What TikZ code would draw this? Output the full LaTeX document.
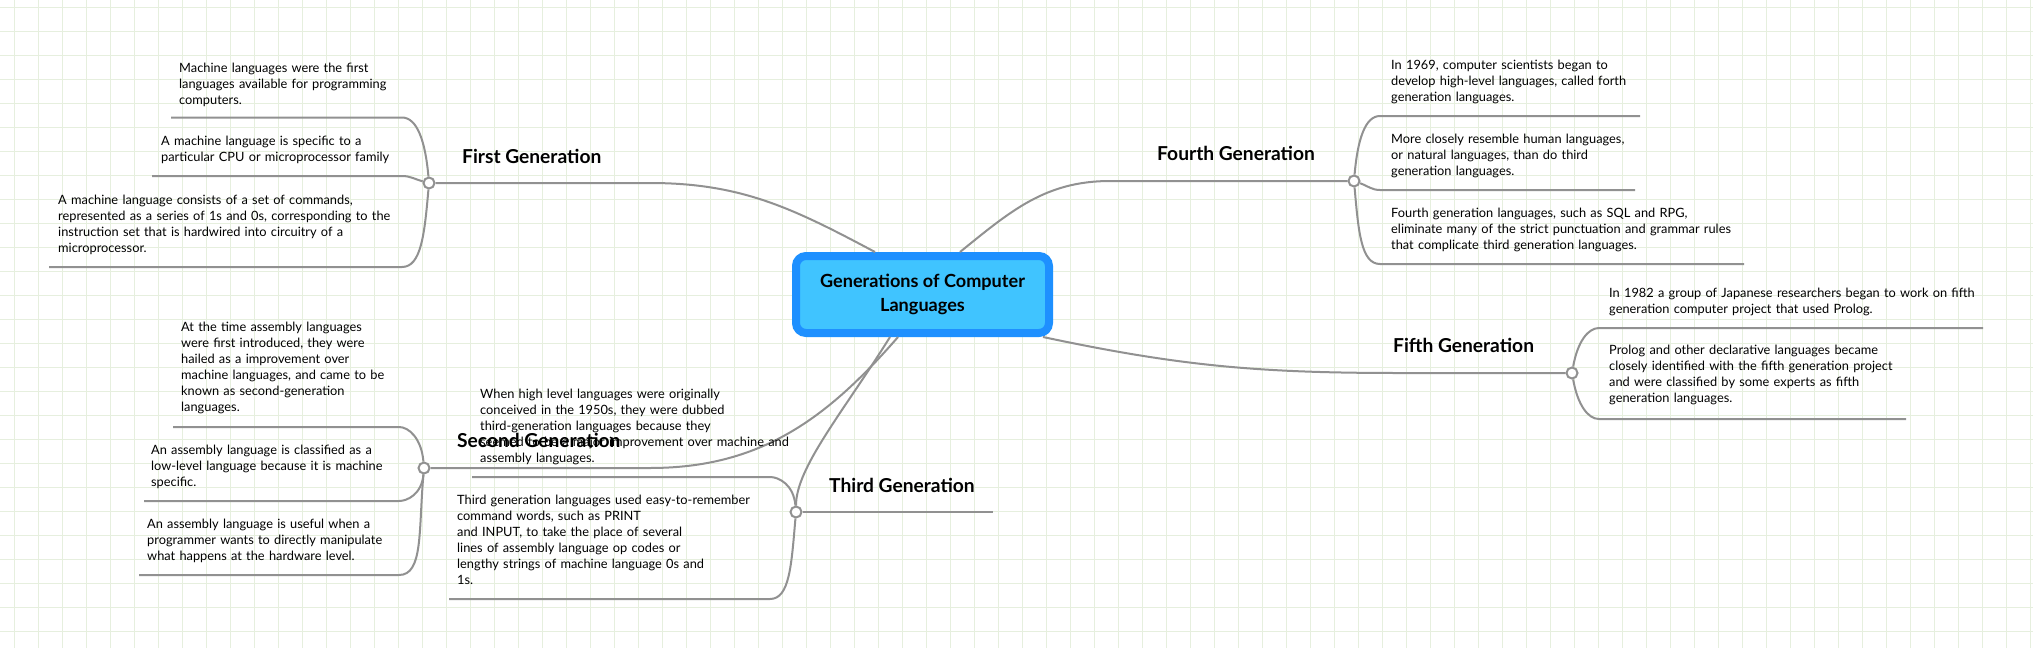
\documentclass[tikz,border=0pt]{standalone}
\usepackage{fontspec}
\setmainfont{Lato}
\usetikzlibrary{calc}

\definecolor{gridgreen}{RGB}{230,239,222}
\definecolor{linegray}{RGB}{145,145,145}
\definecolor{hubblue}{RGB}{30,144,255}
\definecolor{hubfill}{RGB}{64,196,255}

\begin{document}
\begin{tikzpicture}[x = 1pt, y = 1pt,
    branch/.style = {draw = linegray, line width = 2pt},
    dot/.style = {circle, draw = linegray, fill = white, line width = 2pt, minimum size = 11pt, inner sep = 0pt},
    hub/.style = {rounded corners = 10pt, draw = hubblue, fill = hubfill, line width = 8pt, minimum width = 253pt, minimum height = 77pt, inner sep = 0pt, align = center, font = \fontsize{18.1}{24}\selectfont\bfseries},
    topic/.style = {anchor = base west, inner sep = 0pt, font = \fontsize{19.2}{22}\selectfont\bfseries},
    leaf/.style = {anchor = base west, inner sep = 0pt, text width = 420pt, align = left, font = \fontsize{12.8}{16}\selectfont}]
    \useasboundingbox (0,0) rectangle (2033,-648);
    \fill[white] (0,0) rectangle (2033,-648);
    \foreach \x in {14,38,...,2030}
        \draw[gridgreen, line width = 1pt] (\x,0) -- (\x,-648);
    \foreach \y in {7,31,...,631}
        \draw[gridgreen, line width = 1pt] (0,-\y) -- (2033,-\y);

    \node[hub] (hub) at (922.5,-294.5) {Generations of Computer\\Languages};

    \node[dot] (c1) at (429,-183) {};
    \node[dot] (c2) at (424,-468) {};
    \node[dot] (c3) at (796,-512) {};
    \node[dot] (c4) at (1354,-181) {};
    \node[dot] (c5) at (1572,-373) {};

    \coordinate (h1) at ($(hub.north)+(-47.5,0)$);
    \coordinate (h4) at ($(hub.north)+(37.5,0)$);
    \coordinate (h5) at ($(hub.south east)+(-10,0)$);
    \coordinate (h2) at ($(hub.south)+(-24.5,0)$);
    \coordinate (h3) at ($(hub.south)+(-32.5,0)$);
    \coordinate (e1) at (650,-183);
    \coordinate (e2) at (650,-468);
    \coordinate (e3) at (993,-512);
    \coordinate (e4) at (1110,-181);
    \coordinate (e5) at (1400,-373);

    \coordinate (p11) at (402,-117.5);  \coordinate (q11) at (171,-117.5);
    \coordinate (p12) at (402,-176);    \coordinate (q12) at (152,-176);
    \coordinate (p13) at (402,-267);    \coordinate (q13) at (49,-267);
    \coordinate (p21) at (399,-427);    \coordinate (q21) at (173,-427);
    \coordinate (p22) at (399,-501);    \coordinate (q22) at (144,-501);
    \coordinate (p23) at (399,-575);    \coordinate (q23) at (139,-575);
    \coordinate (p31) at (770,-477);    \coordinate (q31) at (472,-477);
    \coordinate (p32) at (770,-599);    \coordinate (q32) at (449,-599);
    \coordinate (p41) at (1380,-116);   \coordinate (q41) at (1640,-116);
    \coordinate (p42) at (1380,-190);   \coordinate (q42) at (1635,-190);
    \coordinate (p43) at (1380,-264);   \coordinate (q43) at (1744,-264);
    \coordinate (p51) at (1599,-328);   \coordinate (q51) at (1983,-328);
    \coordinate (p52) at (1599,-419);   \coordinate (q52) at (1906,-419);

    \draw[branch] (h1) to[out = 152, in = 0] (e1) -- (c1);
    \draw[branch] (h4) to[out = 39, in = 180] (e4) -- (c4);
    \draw[branch] (h5) to[out = -12, in = 180] (e5) -- (c5);
    \draw[branch] (h2) to[out = 229, in = 0] (e2) -- (c2);
    \draw[branch] (h3) to[out = 238, in = 90, out looseness = 1.2, in looseness = 0.5] (c3);
    \draw[branch] (c3) -- (e3);

    \draw[branch] (c1) to[out = 95, in = 0, out looseness = 1.4, in looseness = 0.6] (p11) -- (q11);
    \draw[branch] (c1) to[out = 165, in = 0] (p12) -- (q12);
    \draw[branch] (c1) to[out = 265, in = 0, out looseness = 1.4, in looseness = 0.6] (p13) -- (q13);
    \draw[branch] (c2) to[out = 95, in = 0, out looseness = 1.4, in looseness = 0.6] (p21) -- (q21);
    \draw[branch] (c2) to[out = 265, in = 0, out looseness = 1.4, in looseness = 0.6] (p22) -- (q22);
    \draw[branch] (c2) to[out = 265, in = 0, out looseness = 1.4, in looseness = 0.6] (p23) -- (q23);
    \draw[branch] (c3) to[out = 95, in = 0, out looseness = 1.4, in looseness = 0.6] (p31) -- (q31);
    \draw[branch] (c3) to[out = 265, in = 0, out looseness = 1.4, in looseness = 0.6] (p32) -- (q32);
    \draw[branch] (c4) to[out = 85, in = 180, out looseness = 1.4, in looseness = 0.6] (p41) -- (q41);
    \draw[branch] (c4) to[out = -20, in = 180] (p42) -- (q42);
    \draw[branch] (c4) to[out = 275, in = 180, out looseness = 1.4, in looseness = 0.6] (p43) -- (q43);
    \draw[branch] (c5) to[out = 80, in = 180, out looseness = 1.4, in looseness = 0.6] (p51) -- (q51);
    \draw[branch] (c5) to[out = 280, in = 180, out looseness = 1.4, in looseness = 0.6] (p52) -- (q52);

    \node[leaf] (l11) at (179,-72) {Machine languages were the first\\languages available for programming\\computers.};
    \node[leaf] (l12) at (161,-145) {A machine language is specific to a\\particular CPU or microprocessor family};
    \node[leaf] (l13) at (58,-204) {A machine language consists of a set of commands,\\represented as a series of 1s and 0s, corresponding to the\\instruction set that is hardwired into circuitry of a\\microprocessor.};
    \node[leaf] (l21) at (181,-331) {At the time assembly languages\\were first introduced, they were\\hailed as a improvement over\\machine languages, and came to be\\known as second-generation\\languages.};
    \node[leaf] (l22) at (151,-454) {An assembly language is classified as a\\low-level language because it is machine\\specific.};
    \node[leaf] (l23) at (147,-528) {An assembly language is useful when a\\programmer wants to directly manipulate\\what happens at the hardware level.};
    \node[leaf] (l31) at (480,-398) {When high level languages were originally\\conceived in the 1950s, they were dubbed\\third-generation languages because they\\seemed to be a major improvement over machine and\\assembly languages.};
    \node[leaf] (l32) at (457,-504) {Third generation languages used easy-to-remember\\command words, such as PRINT\\and INPUT, to take the place of several\\lines of assembly language op codes or\\lengthy strings of machine language 0s and\\1s.};
    \node[leaf] (l41) at (1391,-69) {In 1969, computer scientists began to\\develop high-level languages, called forth\\generation languages.};
    \node[leaf] (l42) at (1391,-143) {More closely resemble human languages,\\or natural languages, than do third\\generation languages.};
    \node[leaf] (l43) at (1391,-217) {Fourth generation languages, such as SQL and RPG,\\eliminate many of the strict punctuation and grammar rules\\that complicate third generation languages.};
    \node[leaf] (l51) at (1609,-297) {In 1982 a group of Japanese researchers began to work on fifth\\generation computer project that used Prolog.};
    \node[leaf] (l52) at (1609,-354) {Prolog and other declarative languages became\\closely identified with the fifth generation project\\and were classified by some experts as fifth\\generation languages.};

    \node[topic] (t1) at (462,-163) {First Generation};
    \node[topic] (t2) at (457,-447) {Second Generation};
    \node[topic] (t3) at (829,-492) {Third Generation};
    \node[topic] (t4) at (1157,-160) {Fourth Generation};
    \node[topic] (t5) at (1393,-352) {Fifth Generation};
\end{tikzpicture}
\end{document}
